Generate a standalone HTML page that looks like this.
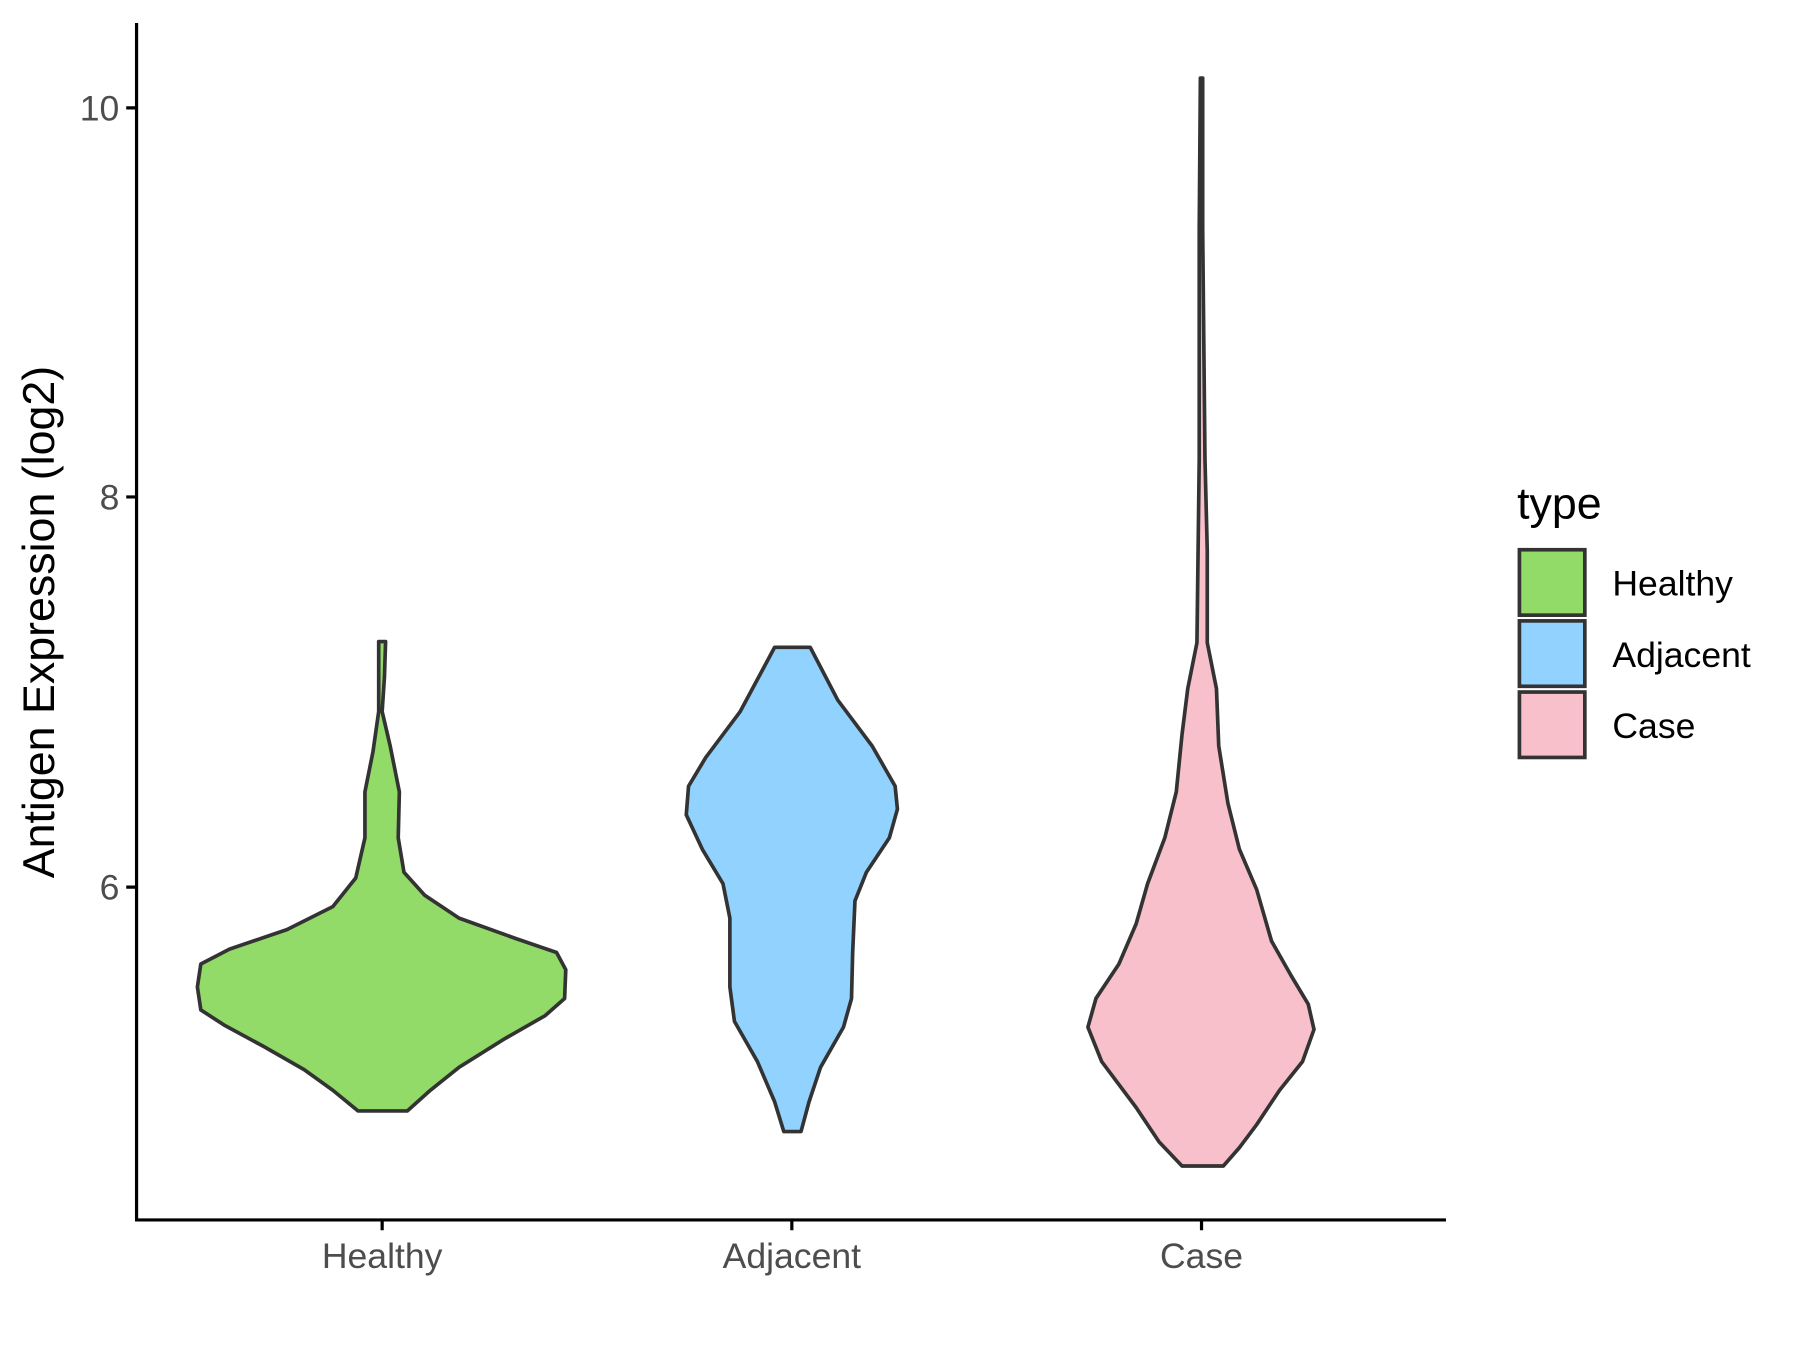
<!DOCTYPE html>
<html><head><meta charset="utf-8"><style>
html,body{margin:0;padding:0;background:#fff;}
svg{display:block;}
text{font-family:"Liberation Sans",Arial,sans-serif;}
</style></head><body>
<svg width="1800" height="1350" viewBox="0 0 1568.5 1176.3" xmlns="http://www.w3.org/2000/svg">
<rect width="1568.5" height="1176.3" fill="#fff"/>
<g stroke="#333" stroke-width="3.2" stroke-linejoin="round">
<path fill="#93DB69" d="M336,559 L335,590 L333,620 L340,650 L348,690 L347,730 L352,760 L370,780 L400,800 L450,818 L485,830 L493,845 L492,870 L475,885 L440,905 L400,930 L375,950 L355,968 L312,968 L290,950 L265,932 L230,912 L195,893 L175,880 L172,860 L175,840 L200,827 L250,810 L290,790 L310,765 L318,730 L318,690 L325,655 L330,620 L330,590 L330,559 Z"/>
<path fill="#92D2FF" d="M706,564 L730,610 L760,650 L780,685 L782,705 L775,730 L755,760 L745,785 L743,830 L742,870 L735,895 L715,930 L705,960 L698,986 L683,986 L675,960 L660,925 L640,890 L636,860 L636,800 L630,770 L612,740 L598,710 L600,685 L615,660 L645,620 L675,564 Z"/>
<path fill="#F8C0CB" d="M1048,68 L1048,200 L1049,300 L1050,400 L1052,480 L1052,560 L1060,600 L1062,650 L1070,700 L1080,740 L1095,775 L1108,820 L1125,850 L1140,875 L1145,897 L1135,925 L1115,950 L1095,980 L1080,1000 L1066,1016 L1030,1016 L1010,995 L990,965 L960,925 L948,895 L955,870 L975,840 L990,805 L1000,770 L1015,730 L1025,690 L1030,640 L1035,600 L1043,560 L1044,480 L1045,400 L1045,200 L1046,68 Z"/>
</g>
<g stroke="#000" stroke-width="2.8" fill="none">
<path d="M119,20 L119,1063 L1260,1063"/>
<path d="M110,94 H119 M110,433 H119 M110,773 H119"/>
<path d="M333,1063 V1072 M690,1063 V1072 M1047,1063 V1072"/>
</g>
<g fill="#4D4D4D" font-size="31">
<text x="104" y="105" text-anchor="end">10</text>
<text x="104" y="444" text-anchor="end">8</text>
<text x="104" y="784" text-anchor="end">6</text>
<text x="333" y="1105" text-anchor="middle">Healthy</text>
<text x="690" y="1105" text-anchor="middle">Adjacent</text>
<text x="1047" y="1105" text-anchor="middle">Case</text>
</g>
<text transform="translate(47,542) rotate(-90)" text-anchor="middle" font-size="39" fill="#000">Antigen Expression (log2)</text>
<text x="1322" y="452" font-size="39" fill="#000">type</text>
<g stroke="#333" stroke-width="3.2">
<rect x="1324" y="479" width="57" height="57" fill="#93DB69"/>
<rect x="1324" y="541" width="57" height="57" fill="#92D2FF"/>
<rect x="1324" y="603" width="57" height="57" fill="#F8C0CB"/>
</g>
<g font-size="31" fill="#000">
<text x="1405" y="519">Healthy</text>
<text x="1405" y="581">Adjacent</text>
<text x="1405" y="643">Case</text>
</g>
</svg>
</body></html>
